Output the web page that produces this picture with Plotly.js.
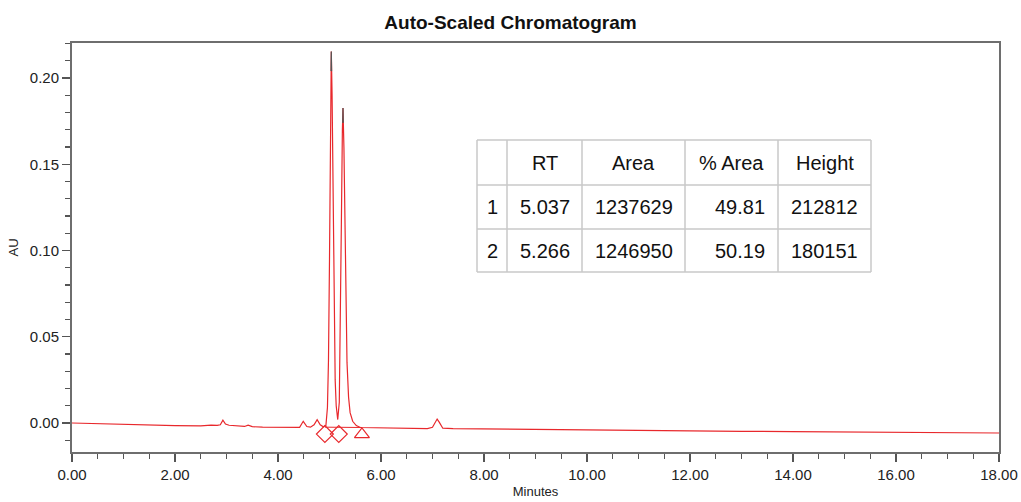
<!DOCTYPE html>
<html>
<head>
<meta charset="utf-8">
<script src="https://cdn.plot.ly/plotly-3.0.1.min.js"></script>
<style>html,body{margin:0;padding:0;background:#fff}#chart{width:1021px;height:502px}</style>
</head>
<body>
<div id="chart"></div>
<script>
// Chromatogram trace (minutes, AU)
const timeMin = [0, 0.5, 1.0, 1.5, 2.0, 2.5, 2.7, 2.82, 2.88, 2.93, 2.98, 3.05, 3.2, 3.35, 3.42, 3.5, 3.7, 4.0, 4.3, 4.42, 4.49, 4.56, 4.63, 4.7, 4.76, 4.82, 4.88, 4.93,
  4.96, 4.98, 5.00, 5.02, 5.035, 5.05, 5.07, 5.09, 5.11, 5.13, 5.16, 5.19, 5.21, 5.23, 5.25, 5.262, 5.28, 5.30, 5.32, 5.34, 5.37, 5.40, 5.45, 5.52, 5.6,
  6.0, 6.5, 6.9, 7.0, 7.05, 7.09, 7.13, 7.2, 7.4, 8.0, 9.0, 10.0, 11.0, 12.0, 13.0, 14.0, 15.0, 16.0, 17.0, 18.0];
const absAU = [0.0000, -0.0004, -0.0009, -0.0012, -0.0015, -0.0016, -0.0012, -0.0014, -0.0010, 0.0017, -0.0006, -0.0013, -0.0016, -0.0020, -0.0012, -0.0021, -0.0024, -0.0025, -0.0026, -0.0025, 0.0010, -0.0020, -0.0024, -0.0010, 0.0020, -0.0010, -0.0022, -0.0015,
  0.0090, 0.0360, 0.0950, 0.1750, 0.2153, 0.1900, 0.1200, 0.0600, 0.0250, 0.0100, 0.0020, 0.0120, 0.0500, 0.1150, 0.1700, 0.1826, 0.1600, 0.1100, 0.0650, 0.0350, 0.0150, 0.0060, 0.0010, -0.0015, -0.0026,
  -0.0028, -0.0030, -0.0032, -0.0025, 0.0005, 0.0023, 0.0005, -0.0030, -0.0033, -0.0035, -0.0038, -0.0041, -0.0043, -0.0046, -0.0048, -0.0050, -0.0052, -0.0054, -0.0056, -0.0058];

// Dark apex segments of the two peaks
const tip1Time = [5.030, 5.035, 5.040];
const tip1AU = [0.2040, 0.2153, 0.2040];
const tip2Time = [5.257, 5.262, 5.267];
const tip2AU = [0.1740, 0.1826, 0.1740];

// Integration baseline and markers
const baseTime = [4.91, 5.63];
const baseAU = [-0.0024, -0.0026];
const markerTime = [4.91, 5.18, 5.63];
const markerAU = [-0.0064, -0.0064, -0.0066];
const markerSymbol = ['diamond-open', 'diamond-open', 'triangle-up-open'];

// Peak table
const tableHeader = ['', 'RT', 'Area', '% Area', 'Height'];
const peakNo = ['1', '2'];
const peakRT = ['5.037', '5.266'];
const peakArea = ['1237629', '1246950'];
const peakPctArea = ['49.81', '50.19'];
const peakHeight = ['212812', '180151'];

const xTickVals = [0, 2, 4, 6, 8, 10, 12, 14, 16, 18];
const xTickText = ['0.00', '2.00', '4.00', '6.00', '8.00', '10.00', '12.00', '14.00', '16.00', '18.00'];
const yTickVals = [0, 0.05, 0.10, 0.15, 0.20];
const yTickText = ['0.00', '0.05', '0.10', '0.15', '0.20'];

const red = '#e8282c';
const fontFam = 'Liberation Sans, Arial, sans-serif';

// ---- table geometry (pixels of the 1021x502 page) ----
const W = 1021, H = 502, mL = 72, mR = 22, mT = 43, mB = 50;
const plotW = W - mL - mR, plotH = H - mT - mB;
const px = v => (v - mL) / plotW;
const py = v => (H - mB - v) / plotH;
const colEdges = [477, 507, 582, 685, 778, 871];
const rowEdges = [140, 185, 229, 272];
const colAlign = ['center', 'center', 'center', 'right', 'center'];

const shapes = [];
colEdges.forEach(c => shapes.push({type: 'line', xref: 'paper', yref: 'paper', x0: px(c), x1: px(c), y0: py(rowEdges[0]), y1: py(rowEdges[rowEdges.length - 1]), line: {color: '#c8c8c8', width: 1.5}}));
rowEdges.forEach(r => shapes.push({type: 'line', xref: 'paper', yref: 'paper', x0: px(colEdges[0]), x1: px(colEdges[colEdges.length - 1]), y0: py(r), y1: py(r), line: {color: '#c8c8c8', width: 1.5}}));

const rows = [tableHeader];
peakNo.forEach((n, i) => rows.push([n, peakRT[i], peakArea[i], peakPctArea[i], peakHeight[i]]));
const annotations = [];
rows.forEach((row, ri) => {
  const yc = (rowEdges[ri] + rowEdges[ri + 1]) / 2;
  row.forEach((txt, ci) => {
    if (!txt) return;
    const right = colAlign[ci] === 'right' && ri > 0;
    const xc = right ? colEdges[ci + 1] - 11 : (colEdges[ci] + colEdges[ci + 1]) / 2;
    annotations.push({xref: 'paper', yref: 'paper', x: px(xc), y: py(yc), text: txt, showarrow: false,
      xanchor: right ? 'right' : 'center', yanchor: 'middle',
      font: {family: fontFam, size: 20, color: '#111111'}});
  });
});

const traces = [
  {x: baseTime, y: baseAU, type: 'scatter', mode: 'lines', line: {color: red, width: 1}},
  {x: timeMin, y: absAU, type: 'scatter', mode: 'lines', line: {color: red, width: 1.2}},
  {x: tip1Time, y: tip1AU, type: 'scatter', mode: 'lines', line: {color: '#555555', width: 1.2}},
  {x: tip2Time, y: tip2AU, type: 'scatter', mode: 'lines', line: {color: '#555555', width: 1.2}},
  {x: markerTime, y: markerAU, type: 'scatter', mode: 'markers',
   marker: {symbol: markerSymbol, size: 13, color: red, line: {color: red, width: 1.2}}}
];

const layout = {
  width: W, height: H,
  margin: {l: mL, r: mR, t: mT, b: mB},
  paper_bgcolor: '#ffffff', plot_bgcolor: '#ffffff',
  showlegend: false,
  font: {family: fontFam, color: '#222222'},
  title: {text: '<b>Auto-Scaled Chromatogram</b>', x: 0.5, xanchor: 'center', y: 0.955, yanchor: 'middle',
          font: {family: fontFam, size: 19, color: '#111111'}},
  xaxis: {range: [0, 18], tickvals: xTickVals, ticktext: xTickText, ticks: 'outside', ticklen: 8, tickwidth: 1.3, tickcolor: '#555555',
          minor: {dtick: 0.5, ticks: 'outside', ticklen: 5, tickwidth: 1.3, tickcolor: '#555555', showgrid: false},
          showgrid: false, zeroline: false, showline: true, linecolor: '#6e6e6e', linewidth: 2, mirror: true,
          tickfont: {size: 15, color: '#222222'},
          title: {text: 'Minutes', font: {size: 13, color: '#222222'}, standoff: 5}},
  yaxis: {range: [-0.0168, 0.2203], tickvals: yTickVals, ticktext: yTickText, ticks: 'outside', ticklen: 8, tickwidth: 1.3, tickcolor: '#555555',
          minor: {dtick: 0.01, ticks: 'outside', ticklen: 5, tickwidth: 1.3, tickcolor: '#555555', showgrid: false},
          showgrid: false, zeroline: false, showline: true, linecolor: '#6e6e6e', linewidth: 2, mirror: true,
          tickfont: {size: 15, color: '#222222'},
          title: {text: 'AU', font: {size: 13, color: '#222222'}, standoff: 8}},
  shapes: shapes,
  annotations: annotations
};

Plotly.newPlot('chart', traces, layout, {displayModeBar: false, staticPlot: true});
</script>
</body>
</html>
